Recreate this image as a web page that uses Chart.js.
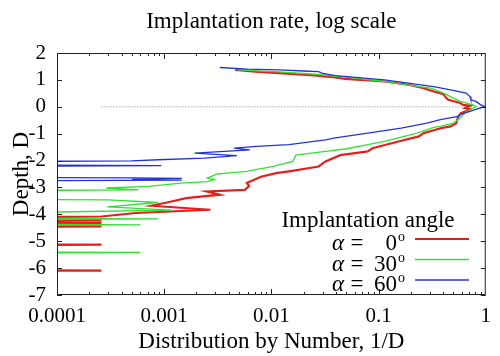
<!DOCTYPE html>
<html>
<head>
<meta charset="utf-8">
<script src="https://cdn.jsdelivr.net/npm/chart.js@4.4.1/dist/chart.umd.min.js"></script>
<style>
  html, body { margin: 0; padding: 0; background: #fff; }
  #wrap { width: 500px; height: 356px; }
</style>
</head>
<body>
<div id="wrap"><canvas id="chart"></canvas></div>
<script>
// empty bins: a value far off the left end of the log axis
const NONE = 1e-6;

const redDepth = [1.375, 1.30, 1.25, 1.17, 1.09, 1.04, 0.94, 0.82, 0.69, 0.57, 0.47, 0.36, 0.26, 0.14, 0.07, 0.04,
  -0.05, -0.09, -0.17, -0.23, -0.36, -0.61, -0.73, -0.80, -0.98, -1.10, -1.30, -1.54, -1.66, -1.80, -2.03, -2.22,
  -2.40, -2.47, -2.60, -2.83, -2.95, -3.09, -3.15, -3.27, -3.40, -3.55, -3.68, -3.83, -3.95, -4.08,
  -4.16, -4.22, -4.27, -4.32, -4.39, -4.45, -4.50, -5.08, -5.13, -5.18, -6.04, -6.09, -6.14];
const redValue = [0.0046, 0.0075, 0.0118, 0.025, 0.0395, 0.0487, 0.1135, 0.19, 0.264, 0.327, 0.403, 0.42, 0.448, 0.577, 0.615, 0.713,
  0.641, 0.713, 0.656, 0.59, 0.553, 0.531, 0.468, 0.38, 0.264, 0.238, 0.15, 0.088, 0.0793, 0.0439, 0.032, 0.0276,
  0.0146, 0.0111, 0.008, 0.0059, 0.0062, 0.00565, 0.0025, 0.0033, 0.0016, 0.00109, 0.00076, 0.0027, 0.000542, 0.00026,
  NONE, 0.00026, NONE, 0.00026, NONE, 0.00026, NONE, NONE, 0.00026, NONE, NONE, 0.00026, NONE];

const greenDepth = [1.37, 1.30, 1.20, 1.10, 0.95, 0.84, 0.69, 0.51, 0.38, 0.20, 0.07, 0.01,
  -0.11, -0.23, -0.42, -0.61, -0.73, -0.77, -0.98, -1.29, -1.41, -1.57, -1.66, -1.80, -2.03, -2.22,
  -2.40, -2.47, -2.50, -2.65, -2.71, -2.78, -2.84, -2.96, -3.02, -3.09, -3.14, -3.41, -3.46, -3.56,
  -3.72, -3.84, -4.05, -4.12, -4.17, -4.22, -4.34, -4.39, -4.44, -5.37, -5.42, -5.47];
const greenValue = [0.0048, 0.0118, 0.028, 0.0487, 0.11, 0.1626, 0.306, 0.403, 0.468, 0.577, 0.76, 0.81,
  0.713, 0.641, 0.577, 0.498, 0.378, 0.327, 0.228, 0.1135, 0.0793, 0.0487, 0.032, 0.0169, 0.0159, 0.0104,
  0.0059, 0.00386, 0.00313, 0.00253, 0.00294, 0.00253, 0.00143, 0.000713, 0.000288, 0.000577, NONE, NONE, 0.0003, 0.00088,
  0.000294, 0.00118, NONE, NONE, 0.00088, NONE, NONE, 0.0006, NONE, NONE, 0.0006, NONE];

const blueDepth = [1.46, 1.40, 1.375, 1.33, 1.31, 1.24, 1.16, 1.00, 0.75, 0.63, 0.51, 0.38, 0.26, 0.20, 0.07, 0.00,
  -0.07, -0.17, -0.27, -0.36, -0.48, -0.61, -0.79, -0.98, -1.16, -1.23, -1.41, -1.47, -1.54, -1.60, -1.72, -1.82,
  -1.91, -1.97, -2.01, -2.07, -2.14, -2.19, -2.24, -2.60, -2.645, -2.66, -2.70, -2.73, -2.78];
const blueValue = [0.0033, 0.006, 0.0118, 0.02, 0.0276, 0.03, 0.0395, 0.1135, 0.327, 0.468, 0.656, 0.713, 0.727, 0.81, 0.90, 0.98,
  0.845, 0.713, 0.589, 0.553, 0.378, 0.282, 0.1626, 0.0793, 0.0395, 0.032, 0.0146, 0.00728, 0.00448, 0.00628, 0.00192, 0.00477,
  0.00238, 0.00088, 0.000498, NONE, NONE, 0.00094, NONE, NONE, 0.0005, 0.00146, 0.0005, 0.00146, NONE];

const zeroLineX = [0.00026, 1];

const xTickValues = [0.0001, 0.001, 0.01, 0.1, 1];
const xTickLabels = ['0.0001', '0.001', '0.01', '0.1', '1'];

const seriesNames = ['0', '30', '60'];
const seriesColors = ['rgb(228,32,28)', 'rgb(52,224,52)', 'rgb(36,52,212)'];
const seriesWidths = [2.2, 1.3, 1.3];

const serif = 'Liberation Serif';

const toPoints = (depth, value) => depth.map((d, i) => ({ x: value[i], y: d }));

// gnuplot-like frame with inward ticks on all four sides, plus the legend
const framePlugin = {
  id: 'frame',
  afterDraw(chart) {
    const { ctx, chartArea: a, scales: { x, y } } = chart;
    ctx.save();
    ctx.strokeStyle = '#222';
    ctx.lineWidth = 1;
    ctx.beginPath();
    for (let e = -4; e < 0; e++) {
      for (let k = 1; k < 10; k++) {
        const px = Math.round(x.getPixelForValue(k * Math.pow(10, e))) + 0.5;
        const len = k === 1 ? 6 : 3;
        ctx.moveTo(px, a.bottom); ctx.lineTo(px, a.bottom - len);
        ctx.moveTo(px, a.top); ctx.lineTo(px, a.top + len);
      }
    }
    for (let v = -7; v <= 2; v++) {
      const py = Math.round(y.getPixelForValue(v)) + 0.5;
      ctx.moveTo(a.left, py); ctx.lineTo(a.left + 5, py);
      ctx.moveTo(a.right, py); ctx.lineTo(a.right - 5, py);
    }
    ctx.stroke();
    ctx.strokeRect(a.left + 0.5, a.top + 0.5, a.right - a.left - 1, a.bottom - a.top - 1);

    // legend
    ctx.fillStyle = '#000';
    ctx.textBaseline = 'alphabetic';
    ctx.font = '23px "' + serif + '"';
    ctx.textAlign = 'center';
    ctx.fillText('Implantation angle', 368, 227);
    seriesNames.forEach((name, i) => {
      const base = 250 + i * 20.5;
      ctx.font = 'italic 23px "' + serif + '"';
      ctx.textAlign = 'left';
      ctx.fillText('α', 332, base);
      ctx.font = '23px "' + serif + '"';
      ctx.textAlign = 'center';
      ctx.fillText('=', 357, base);
      ctx.textAlign = 'right';
      ctx.fillText(name, 397, base);
      ctx.font = '14px "' + serif + '"';
      ctx.textAlign = 'left';
      ctx.fillText('o', 398, base - 9);
      ctx.strokeStyle = seriesColors[i];
      ctx.lineWidth = seriesWidths[i];
      ctx.beginPath();
      ctx.moveTo(415, base - 11);
      ctx.lineTo(469, base - 11);
      ctx.stroke();
    });
    ctx.restore();
  }
};

const series = [
  { depth: redDepth, value: redValue },
  { depth: greenDepth, value: greenValue },
  { depth: blueDepth, value: blueValue }
];

const datasets = series.map((s, i) => ({
  label: 'α = ' + seriesNames[i] + '°',
  data: toPoints(s.depth, s.value),
  borderColor: seriesColors[i],
  borderWidth: seriesWidths[i],
  showLine: true,
  pointRadius: 0,
  fill: false,
  order: 2 - i
}));
datasets.push({
  label: 'zero',
  data: zeroLineX.map(v => ({ x: v, y: 0 })),
  borderColor: '#888',
  borderWidth: 1,
  borderDash: [1, 2],
  showLine: true,
  pointRadius: 0,
  order: 5
});

new Chart(document.getElementById('chart'), {
  type: 'scatter',
  data: { datasets },
  options: {
    responsive: true,
    maintainAspectRatio: false,
    animation: false,
    layout: { padding: { left: 0, right: 7, top: 0, bottom: 0 } },
    plugins: {
      legend: { display: false },
      tooltip: { enabled: false },
      title: {
        display: true,
        fullSize: false,
        text: 'Implantation rate, log scale',
        color: '#000',
        font: { family: serif, size: 23, weight: 'normal' },
        padding: { top: 8, bottom: 17.4 }
      }
    },
    scales: {
      x: {
        type: 'logarithmic',
        min: 0.0001,
        max: 1,
        afterBuildTicks: scale => { scale.ticks = xTickValues.map(v => ({ value: v })); },
        afterFit: scale => { scale.height = 61; },
        grid: { display: false, drawTicks: false },
        border: { display: false },
        ticks: {
          autoSkip: false,
          maxRotation: 0,
          padding: 9,
          color: '#000',
          font: { family: serif, size: 21 },
          callback: (v, i) => xTickLabels[i]
        },
        title: {
          display: true,
          text: 'Distribution by Number, 1/D',
          color: '#000',
          font: { family: serif, size: 23 },
          padding: { top: 0, bottom: 0 }
        }
      },
      y: {
        min: -7,
        max: 2,
        afterFit: scale => { scale.width = 57; },
        grid: { display: false, drawTicks: false },
        border: { display: false },
        ticks: {
          autoSkip: false,
          stepSize: 1,
          padding: 11,
          color: '#000',
          font: { family: serif, size: 21 }
        },
        title: {
          display: true,
          text: 'Depth, D',
          color: '#000',
          font: { family: serif, size: 23 },
          padding: { top: 8, bottom: 0 }
        }
      }
    }
  },
  plugins: [framePlugin]
});
</script>
</body>
</html>
